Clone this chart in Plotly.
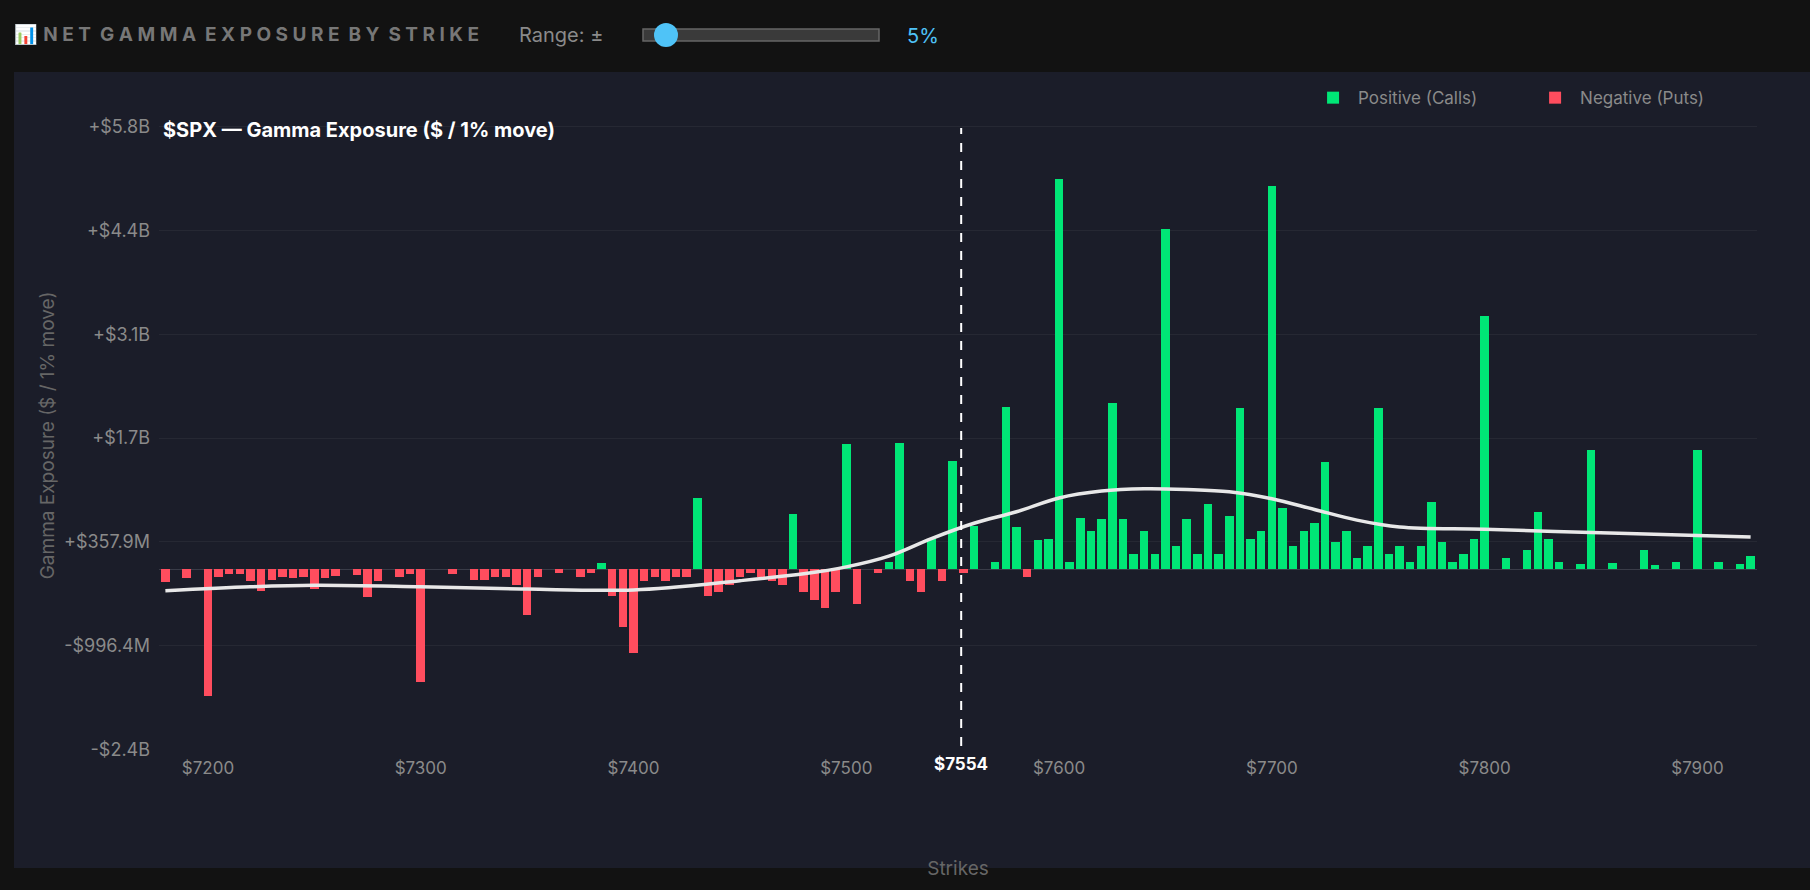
import plotly.graph_objects as go

W, H = 1810, 890
L, R, T, B = 159, 53, 121, 140


def px(x, y):
    # pixel position -> paper coordinates
    return (x - L) / (W - L - R), (H - B - y) / (H - T - B)


strikes = list(range(7180, 7930, 5))
gex = [  # $B per 1% move
    -0.17, 0, -0.11, 0, -1.65, -0.10, -0.065, -0.065, -0.16, -0.29,
    -0.14, -0.10, -0.11, -0.10, -0.26, -0.11, -0.09, 0, -0.08, -0.36,
    -0.15, 0, -0.10, -0.065, -1.47, 0, 0, -0.065, 0, -0.14,
    -0.14, -0.10, -0.10, -0.20, -0.60, -0.10, 0, -0.05, 0, -0.10, -0.05, 0.08,
    -0.35, -0.75, -1.10, -0.15, -0.10, -0.15, -0.10, -0.10, 0.93, -0.35,
    -0.30, -0.20, -0.10, -0.05, -0.10, -0.15, -0.20, 0.72, -0.30, -0.40,
    -0.50, -0.30, 1.63, -0.45, 0, -0.05, 0.10, 1.65, -0.15, -0.30,
    0.40, -0.15, 1.41, -0.05, 0.57, 0, 0.10, 2.12, 0.55, -0.10,
    0.38, 0.40, 5.09, 0.10, 0.67, 0.50, 0.65, 2.17, 0.65, 0.20,
    0.50, 0.20, 4.44, 0.30, 0.65, 0.20, 0.85, 0.20, 0.70, 2.10,
    0.40, 0.50, 5.00, 0.80, 0.30, 0.50, 0.60, 1.40, 0.35, 0.50,
    0.15, 0.30, 2.10, 0.20, 0.30, 0.10, 0.30, 0.88, 0.35, 0.10,
    0.20, 0.40, 3.30, 0, 0.15, 0, 0.25, 0.75, 0.40, 0.10,
    0, 0.07, 1.55, 0, 0.08, 0, 0, 0.25, 0.06, 0,
    0.10, 0, 1.55, 0, 0.10, 0, 0.07, 0.17,
]
pos = [v if v > 0 else None for v in gex]
neg = [v if v < 0 else None for v in gex]

trend_x = [7180, 7220, 7250, 7300, 7350, 7400, 7450, 7480, 7500, 7520, 7540, 7560,
           7580, 7600, 7620, 7640, 7660, 7680, 7700, 7720, 7740, 7760, 7800, 7850, 7900, 7925]
trend_y = [-0.28, -0.23, -0.21, -0.23, -0.26, -0.27, -0.15, -0.06, 0.03, 0.17, 0.40, 0.60,
           0.75, 0.93, 1.02, 1.05, 1.04, 1.01, 0.92, 0.78, 0.64, 0.55, 0.52, 0.48, 0.44, 0.42]

ticks = [-2.351, -0.9964, 0.3579, 1.712, 3.067, 4.421, 5.775]
tick_text = ["-$2.4B", "-$996.4M", "+$357.9M", "+$1.7B", "+$3.1B", "+$4.4B", "+$5.8B"]

fig = go.Figure(
    data=[
        go.Bar(x=strikes, y=pos, name="Positive (Calls)          ", marker_color="#00e676",
               marker_line_width=0, width=4),
        go.Bar(x=strikes, y=neg, name="Negative (Puts)", marker_color="#ff4d5e",
               marker_line_width=0, width=4),
        go.Scatter(x=trend_x, y=trend_y, mode="lines", line=dict(color="#e8e8e8", width=3.5, shape="spline"),
                   showlegend=False, hoverinfo="skip"),
    ]
)

x0, y0 = px(14, 72)
x1, y1 = px(1810, 868)
sx0, sy0 = px(643, 29)
sx1, sy1 = px(879, 41)
cx0, cy0 = px(654, 23)
cx1, cy1 = px(678, 47)
dx, dtop = px(0, 128)
_, dbot = px(0, 746)

fig.update_layout(
    width=W,
    height=H,
    margin=dict(l=L, r=R, t=T, b=B),
    paper_bgcolor="#121212",
    plot_bgcolor="#1b1d29",
    barmode="overlay",
    bargap=0,
    font=dict(family="Inter, Roboto, sans-serif", color="#8a8a8a", size=17),
    legend=dict(orientation="h", x=0.97, xanchor="right", y=1.065, yanchor="top",
                font=dict(color="#8a8a8a", size=17), itemwidth=40, bgcolor="rgba(0,0,0,0)"),
    xaxis=dict(range=[7177, 7928], dtick=100, tickprefix="$", showgrid=False, zeroline=False,
               ticklabelstandoff=6,
               title=dict(text="Strikes", font=dict(color="#666", size=19), standoff=84),
               tickfont=dict(color="#8a8a8a", size=17)),
    yaxis=dict(range=[-2.36, 5.85], tickvals=ticks, ticktext=tick_text, gridcolor="#262833",
               zeroline=True, zerolinecolor="#3a3c48", zerolinewidth=1, ticklabelstandoff=8,
               title=dict(text="Gamma Exposure ($ / 1% move)", font=dict(color="#666", size=19), standoff=4),
               tickfont=dict(color="#8a8a8a", size=18)),
    shapes=[
        dict(type="rect", xref="paper", yref="paper", x0=x0, y0=y0, x1=x1, y1=y1,
             fillcolor="#1b1d29", line_width=0, layer="below"),
        dict(type="line", xref="x", yref="paper", x0=7554, x1=7554, y0=dbot, y1=dtop,
             line=dict(color="white", width=2, dash="dash")),
        dict(type="rect", xref="paper", yref="paper", x0=sx0, y0=sy0, x1=sx1, y1=sy1,
             fillcolor="#3a3a3a", line=dict(color="#666", width=1.5)),
        dict(type="circle", xref="paper", yref="paper", x0=cx0, y0=cy0, x1=cx1, y1=cy1,
             fillcolor="#4fc3f7", line_width=0),
    ],
    annotations=[
        dict(text="📊 <b>N E T  G A M M A  E X P O S U R E  B Y  S T R I K E</b>", xref="paper", yref="paper",
             x=px(12, 0)[0], y=px(0, 35)[1], xanchor="left", yanchor="middle", showarrow=False,
             font=dict(color="#777", size=19)),
        dict(text="Range: ±", xref="paper", yref="paper", x=px(517, 0)[0], y=px(0, 35)[1],
             xanchor="left", yanchor="middle", showarrow=False, font=dict(color="#8a8a8a", size=20)),
        dict(text="5%", xref="paper", yref="paper", x=px(905, 0)[0], y=px(0, 36)[1],
             xanchor="left", yanchor="middle", showarrow=False, font=dict(color="#4fc3f7", size=20)),
        dict(text="<b>$SPX — Gamma Exposure ($ / 1% move)</b>", xref="paper", yref="paper",
             x=px(161, 0)[0], y=px(0, 116)[1], xanchor="left", showarrow=False,
             font=dict(color="white", size=20)),
        dict(text="<b>$7554</b>", xref="x", yref="paper", x=7554, y=px(0, 764)[1],
             yanchor="middle", showarrow=False, font=dict(color="white", size=17)),
    ],
)

fig.write_html("out.html", config={"displayModeBar": False},
               post_script="document.body.style.margin='0';document.body.style.background='#121212';")
